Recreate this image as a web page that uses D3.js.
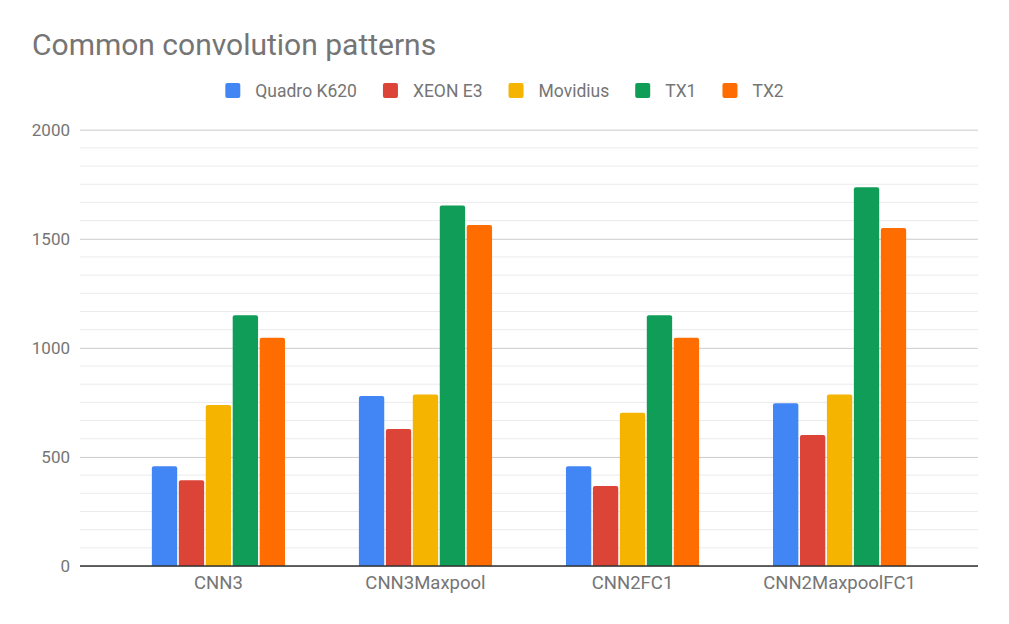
<!DOCTYPE html>
<html>
<head>
<meta charset="utf-8">
<script src="https://cdn.jsdelivr.net/npm/d3@7"></script>
<style>
  body { margin: 0; background: #fff; }
  text { font-family: Roboto, "Noto Sans", sans-serif; fill: #757575; }
</style>
</head>
<body>
<svg id="vis" width="1009" height="624"></svg>
<script>
// chart data
const CATEGORIES = ["CNN3", "CNN3Maxpool", "CNN2FC1", "CNN2MaxpoolFC1"];
const SERIES = ["Quadro K620", "XEON E3", "Movidius", "TX1", "TX2"];
const COLORS = ["#4285f4", "#db4437", "#f4b400", "#0f9d58", "#ff6d01"];
const QUADRO = [457, 779, 457, 746];
const XEON = [393, 628, 367, 600];
const MOVIDIUS = [738, 786, 703, 786];
const TX1 = [1150, 1653, 1150, 1736];
const TX2 = [1046, 1563, 1046, 1549];
const Y_TICKS = [0, 500, 1000, 1500, 2000];

const VALUES = [QUADRO, XEON, MOVIDIUS, TX1, TX2];

const W = 1009, H = 624;
const PLOT = {left: 80, right: 978, top: 129.7, bottom: 566};

const svg = d3.select("#vis");

// scales
const x = d3.scaleBand()
    .domain(CATEGORIES)
    .range([115, 943])
    .paddingInner(0.357)
    .paddingOuter(0.178);

const xs = d3.scaleBand()
    .domain(SERIES)
    .range([0, x.bandwidth()])
    .paddingInner(0.06);

const y = d3.scaleLinear()
    .domain([0, 2000])
    .range([PLOT.bottom, PLOT.top]);

// minor gridlines (6 per major interval)
const minor = d3.range(0, 2000, 500 / 6).filter(v => v % 500 > 1e-6 && 500 - (v % 500) > 1e-6);
svg.append("g")
    .selectAll("line")
    .data(minor)
    .enter().append("line")
    .attr("x1", PLOT.left).attr("x2", PLOT.right)
    .attr("y1", d => y(d)).attr("y2", d => y(d))
    .style("stroke", "#ebebeb")
    .style("stroke-width", 1);

// major gridlines + labels
const yAxis = d3.axisLeft(y)
    .tickValues(Y_TICKS)
    .tickFormat(d3.format("d"))
    .tickSize(-(PLOT.right - PLOT.left))
    .tickPadding(10);
const gy = svg.append("g")
    .attr("transform", `translate(${PLOT.left},0)`)
    .call(yAxis);
gy.select(".domain").remove();
gy.selectAll(".tick line").style("stroke", "#cccccc");
gy.selectAll(".tick text")
    .style("font-size", "17px")
    .style("fill", "#757575")
    .attr("dy", "0.35em");

// bars
const groups = svg.append("g")
    .selectAll("g")
    .data(CATEGORIES)
    .enter().append("g")
    .attr("transform", d => `translate(${x(d)},0)`);

groups.selectAll("path")
    .data((c, i) => SERIES.map((s, j) => ({series: s, value: VALUES[j][i], color: COLORS[j]})))
    .enter().append("path")
    .attr("d", d => {
        const x0 = xs(d.series), w = xs.bandwidth();
        const top = y(d.value), bot = y(0), r = 2;
        return `M${x0},${bot}V${top + r}Q${x0},${top} ${x0 + r},${top}H${x0 + w - r}Q${x0 + w},${top} ${x0 + w},${top + r}V${bot}Z`;
    })
    .style("fill", d => d.color);

// baseline
svg.append("line")
    .attr("x1", PLOT.left).attr("x2", PLOT.right)
    .attr("y1", y(0)).attr("y2", y(0))
    .style("stroke", "#333333")
    .style("stroke-width", 1.5);

// x axis labels
const xAxis = d3.axisBottom(x).tickSize(0).tickPadding(10);
const gx = svg.append("g")
    .attr("transform", `translate(0,${PLOT.bottom})`)
    .call(xAxis);
gx.select(".domain").remove();
gx.selectAll(".tick text")
    .style("font-size", "18.5px")
    .style("fill", "#757575");

// title
svg.append("text")
    .attr("x", 32)
    .attr("y", 55)
    .style("font-size", "30px")
    .style("fill", "#757575")
    .text("Common convolution patterns");

// legend
const legend = svg.append("g");
let lx = 0;
SERIES.forEach((s, i) => {
    const item = legend.append("g").attr("transform", `translate(${lx},0)`);
    item.append("rect")
        .attr("x", 0).attr("y", 83)
        .attr("width", 15).attr("height", 15)
        .attr("rx", 2)
        .style("fill", COLORS[i]);
    const t = item.append("text")
        .attr("x", 30).attr("y", 90.5)
        .attr("dy", "0.35em")
        .style("font-size", "17.5px")
        .text(s);
    lx += 30 + t.node().getComputedTextLength() + 26;
});
lx -= 26;
legend.attr("transform", `translate(${(W - lx) / 2},0)`);
</script>
</body>
</html>
